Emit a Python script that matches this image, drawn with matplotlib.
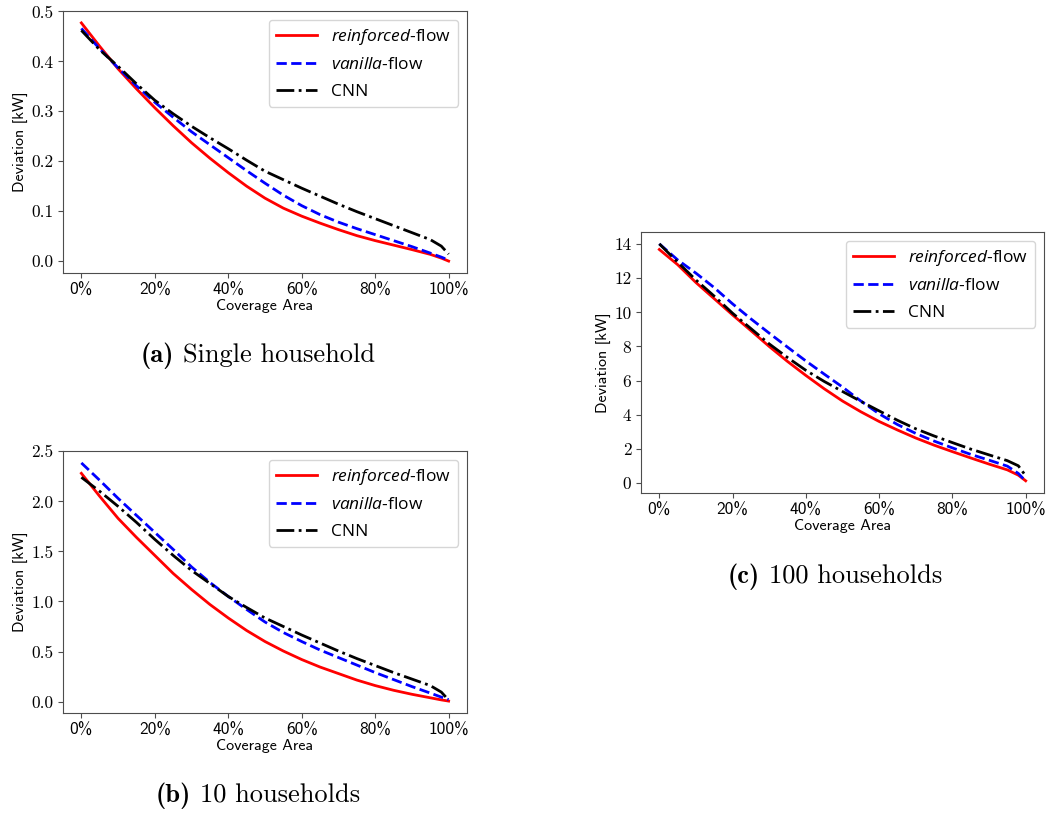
import numpy as np
import matplotlib
matplotlib.use("Agg")
import matplotlib.pyplot as plt
from matplotlib.ticker import PercentFormatter
from matplotlib.offsetbox import TextArea, HPacker, AnchoredOffsetbox

# ---------------- data ----------------
coverage = [0, 5, 10, 15, 20, 25, 30, 35, 40, 45, 50, 55, 60, 65, 70, 75, 80, 85, 90, 95, 98, 100]

# (a) Single household
a_reinforced = [0.477, 0.430, 0.385, 0.345, 0.307, 0.271, 0.237, 0.206, 0.177, 0.150, 0.126, 0.106,
                0.090, 0.076, 0.063, 0.051, 0.041, 0.032, 0.023, 0.0135, 0.006, 0.0]
a_vanilla = [0.466, 0.425, 0.387, 0.351, 0.318, 0.288, 0.259, 0.233, 0.207, 0.181, 0.156, 0.132,
             0.111, 0.093, 0.078, 0.065, 0.053, 0.041, 0.029, 0.016, 0.008, 0.002]
a_cnn = [0.462, 0.423, 0.390, 0.355, 0.322, 0.295, 0.270, 0.247, 0.225, 0.202, 0.180, 0.163,
         0.146, 0.130, 0.114, 0.099, 0.085, 0.071, 0.057, 0.043, 0.030, 0.014]

# (b) 10 households
b_reinforced = [2.28, 2.05, 1.83, 1.64, 1.46, 1.28, 1.12, 0.97, 0.835, 0.71, 0.60, 0.505,
                0.42, 0.345, 0.28, 0.215, 0.16, 0.113, 0.073, 0.038, 0.017, 0.005]
b_vanilla = [2.384, 2.21, 2.03, 1.86, 1.69, 1.52, 1.345, 1.19, 1.05, 0.92, 0.795, 0.69,
             0.60, 0.515, 0.44, 0.365, 0.29, 0.22, 0.15, 0.085, 0.045, 0.02]
b_cnn = [2.24, 2.10, 1.95, 1.79, 1.62, 1.46, 1.31, 1.18, 1.05, 0.94, 0.835, 0.75,
         0.665, 0.585, 0.505, 0.43, 0.36, 0.29, 0.225, 0.16, 0.095, 0.015]

# (c) 100 households
c_reinforced = [13.69, 12.8, 11.75, 10.8, 9.85, 8.93, 8.0, 7.12, 6.3, 5.52, 4.8, 4.17,
                3.6, 3.1, 2.63, 2.21, 1.83, 1.46, 1.1, 0.76, 0.45, 0.12]
c_vanilla = [14.02, 13.08, 12.3, 11.45, 10.5, 9.62, 8.78, 7.96, 7.15, 6.38, 5.62, 4.8,
             4.05, 3.42, 2.9, 2.45, 2.05, 1.67, 1.33, 0.98, 0.55, 0.1]
c_cnn = [14.02, 12.95, 11.9, 10.95, 9.95, 9.05, 8.15, 7.35, 6.6, 5.95, 5.36, 4.78,
         4.22, 3.67, 3.17, 2.75, 2.36, 1.98, 1.64, 1.3, 1.0, 0.41]

series_labels = [r"$\mathit{reinforced}$-flow", r"$\mathit{vanilla}$-flow", "CNN"]
x_ticks = [0, 20, 40, 60, 80, 100]
a_yticks = [0.0, 0.1, 0.2, 0.3, 0.4, 0.5]
b_yticks = [0.0, 0.5, 1.0, 1.5, 2.0, 2.5]
c_yticks = [0, 2, 4, 6, 8, 10, 12, 14]
captions = [("(a)", "Single household"),
            ("(b)", "10 households"),
            ("(c)", "100 households")]

# ---------------- style ----------------
plt.rcParams["mathtext.fontset"] = "custom"
plt.rcParams["mathtext.rm"] = "Open Sans"
plt.rcParams["mathtext.it"] = "Open Sans:italic"
plt.rcParams["mathtext.bf"] = "Open Sans:bold"

W, H = 1047, 815
fig = plt.figure(figsize=(W / 100, H / 100), dpi=100)


def px_axes(l, t, r, b):
    return fig.add_axes([l / W, 1 - b / H, (r - l) / W, (b - t) / H])


def draw(ax, red, blue, black, yticks, fmt):
    ax.plot(coverage, red, color="red", lw=2.0, ls="-", label=series_labels[0])
    ax.plot(coverage, blue, color="blue", lw=2.0, ls="--", label=series_labels[1])
    ax.plot(coverage, black, color="black", lw=2.0, ls="-.", label=series_labels[2])
    ax.set_xticks(x_ticks)
    ax.xaxis.set_major_formatter(PercentFormatter(xmax=100, decimals=0))
    ax.set_yticks(yticks)
    ax.set_yticklabels([fmt.format(v) for v in yticks])
    for lab in ax.get_yticklabels():
        lab.set_fontfamily("cmr10")
        lab.set_fontsize(12.5)
    for lab in ax.get_xticklabels():
        lab.set_fontfamily("cmss10")
        lab.set_fontsize(12.5)
    ax.set_xlabel("Coverage Area", fontfamily="cmss10", fontsize=11.5, labelpad=1)
    ax.set_ylabel("Deviation [kW]", fontfamily="cmss10", fontsize=11.5, labelpad=2)
    for s in ax.spines.values():
        s.set_color("0.3")
    ax.tick_params(color="0.3")
    ax.legend(loc="upper right", prop={"family": "Open Sans", "size": 12.5},
              handlelength=2.4, labelspacing=0.6)
    return ax


ax_a = px_axes(63, 11, 467, 273)
draw(ax_a, a_reinforced, a_vanilla, a_cnn, a_yticks, "{:.1f}")
ax_b = px_axes(63, 451, 467, 713)
draw(ax_b, b_reinforced, b_vanilla, b_cnn, b_yticks, "{:.1f}")
ax_c = px_axes(641, 232, 1044, 493)
draw(ax_c, c_reinforced, c_vanilla, c_cnn, c_yticks, "{:d}")


def caption(xc, yc, tag, text):
    box = HPacker(children=[TextArea(tag, textprops=dict(fontfamily="cmb10", fontsize=19)),
                            TextArea(text, textprops=dict(fontfamily="cmr10", fontsize=19))],
                  sep=7, align="baseline", pad=0)
    anc = AnchoredOffsetbox(loc="center", child=box, pad=0, borderpad=0, frameon=False,
                            bbox_to_anchor=(xc / W, 1 - yc / H),
                            bbox_transform=fig.transFigure)
    fig.add_artist(anc)


caption(258, 356, *captions[0])
caption(258, 796, *captions[1])
caption(835, 577, *captions[2])

fig.savefig("out.png", dpi=100)
